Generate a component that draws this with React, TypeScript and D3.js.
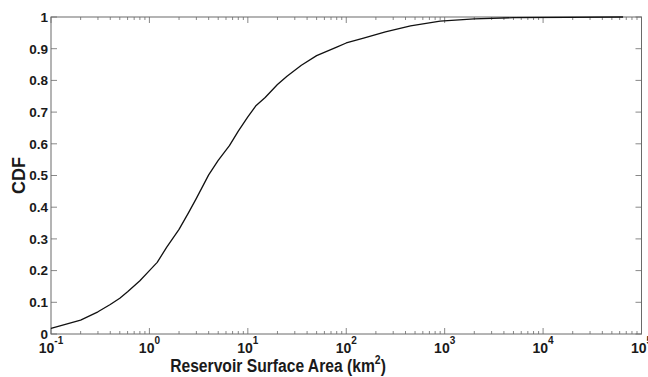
import React from "react";
import * as d3 from "d3";

const areaKm2 = [0.1, 0.2, 0.3, 0.4, 0.5, 0.6, 0.8, 1.0, 1.2, 1.5, 2, 2.5, 3, 4, 5, 6.5, 8, 10, 12, 15, 20, 25, 35, 50, 80, 100, 150, 250, 450, 900, 2000, 5000, 65000];
const cdfValues = [0.018, 0.044, 0.07, 0.093, 0.113, 0.133, 0.168, 0.2, 0.226, 0.274, 0.33, 0.383, 0.428, 0.502, 0.548, 0.594, 0.64, 0.685, 0.719, 0.746, 0.787, 0.813, 0.848, 0.878, 0.905, 0.918, 0.933, 0.953, 0.972, 0.987, 0.994, 0.998, 1.0];
const xExponents = [-1, 0, 1, 2, 3, 4, 5];
const yTicks = [0, 0.1, 0.2, 0.3, 0.4, 0.5, 0.6, 0.7, 0.8, 0.9, 1];
const yTickLabels = ["0", "0.1", "0.2", "0.3", "0.4", "0.5", "0.6", "0.7", "0.8", "0.9", "1"];

const W = 648, H = 377;
const L = 51, R = 641.5, T = 17, B = 334;
const FONT = "'Liberation Sans', Arial, Helvetica, sans-serif";
const AXIS = "#6a6a6a";

export default function App() {
  const x = d3.scaleLog().domain([0.1, 1e5]).range([L, R]);
  const y = d3.scaleLinear().domain([0, 1]).range([B, T]);
  const pts = areaKm2.map((a, i) => [a, cdfValues[i]] as [number, number]);
  const line = d3.line<[number, number]>().x(d => x(d[0])).y(d => y(d[1]));

  const minor: number[] = [];
  for (let e = -1; e < 5; e++) for (let m = 2; m <= 9; m++) minor.push(m * Math.pow(10, e));

  return (
    <svg width={W} height={H} style={{ position: "absolute", left: 0, top: 0, background: "#fff" }}>
      <rect x={0} y={0} width={W} height={H} fill="#fff" />
      <g stroke={AXIS} strokeWidth={0.8}>
        {xExponents.map(e => {
          const px = x(Math.pow(10, e));
          return (
            <g key={"xt" + e}>
              <line x1={px} x2={px} y1={B} y2={B - 6} />
              <line x1={px} x2={px} y1={T} y2={T + 6} />
            </g>
          );
        })}
        {minor.map((m, i) => {
          const px = x(m);
          return (
            <g key={"mn" + i}>
              <line x1={px} x2={px} y1={B} y2={B - 3} />
              <line x1={px} x2={px} y1={T} y2={T + 3} />
            </g>
          );
        })}
        {yTicks.map((t, i) => (
          <g key={"yt" + i}>
            <line x1={L} x2={L + 6} y1={y(t)} y2={y(t)} />
            <line x1={R} x2={R - 6} y1={y(t)} y2={y(t)} />
          </g>
        ))}
      </g>
      <rect x={L} y={T} width={R - L} height={B - T} fill="none" stroke={AXIS} strokeWidth={1} />
      <path d={line(pts) || ""} fill="none" stroke="#111" strokeWidth={1.3} strokeLinejoin="round" />
      <g fontFamily={FONT} fontWeight="bold" fontSize={13.5} fill="#1a1a1a" textAnchor="end">
        {yTicks.map((t, i) => (
          <text key={"yl" + i} x={L - 3} y={y(t)} dy="0.36em">{yTickLabels[i]}</text>
        ))}
      </g>
      <g fontFamily={FONT} fontWeight="bold" fontSize={14} fill="#1a1a1a">
        {xExponents.map(e => (
          <text key={"xl" + e} x={x(Math.pow(10, e))} y={353} textAnchor="middle">
            10<tspan fontSize={10} dy={-9}>{e}</tspan>
          </text>
        ))}
      </g>
      <text transform="translate(278,372) scale(0.87,1)" textAnchor="middle" fontFamily={FONT} fontWeight="bold" fontSize={18} fill="#1a1a1a">
        Reservoir Surface Area (km<tspan fontSize={12} dy={-8}>2</tspan><tspan dy={8}>)</tspan>
      </text>
      <text transform={`translate(25, ${(T + B) / 2}) rotate(-90)`} textAnchor="middle" fontFamily={FONT} fontWeight="bold" fontSize={18} fill="#1a1a1a">
        CDF
      </text>
    </svg>
  );
}
